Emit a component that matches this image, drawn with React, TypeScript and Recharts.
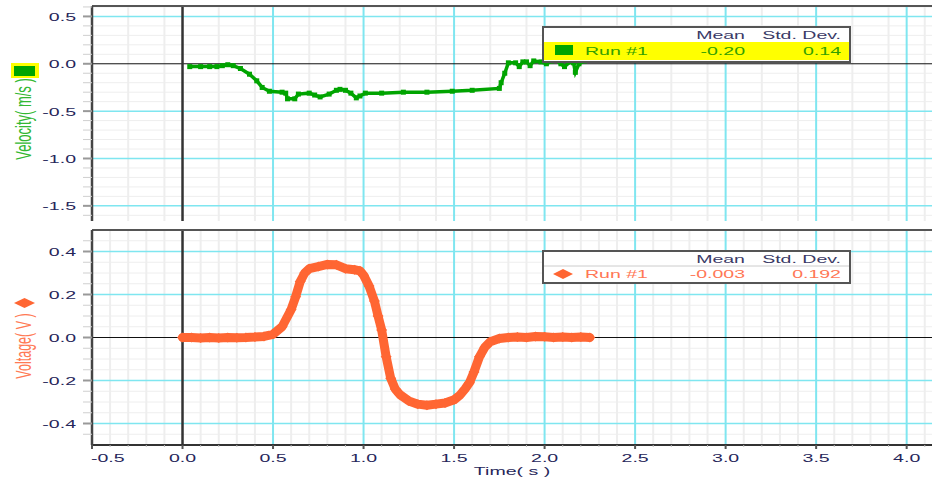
import React from 'react';
import { LineChart, Line, XAxis, YAxis, CartesianGrid } from 'recharts';

// ---------- data ----------
const velTime = [0.04, 0.10, 0.15, 0.19, 0.22, 0.25, 0.28, 0.32, 0.37, 0.41, 0.44, 0.48, 0.55, 0.57, 0.58, 0.62, 0.64, 0.70, 0.73, 0.76, 0.81, 0.85, 0.87, 0.90, 0.93, 0.96, 0.98, 1.01, 1.10, 1.22, 1.35, 1.49, 1.60, 1.75, 1.76, 1.78, 1.80, 1.84, 1.86, 1.88, 1.90, 1.92, 1.94, 1.98, 2.01, 2.04, 2.06, 2.09, 2.11, 2.14, 2.16, 2.17, 2.19, 2.22];
const velValues = [-0.03, -0.03, -0.03, -0.03, -0.02, -0.01, -0.02, -0.05, -0.11, -0.18, -0.25, -0.29, -0.30, -0.31, -0.37, -0.37, -0.32, -0.31, -0.33, -0.35, -0.32, -0.28, -0.27, -0.28, -0.31, -0.36, -0.34, -0.31, -0.31, -0.30, -0.30, -0.29, -0.28, -0.26, -0.20, -0.10, 0.01, 0.01, -0.03, 0.02, 0.02, -0.02, 0.03, 0.02, 0.00, 0.03, 0.04, 0.00, -0.03, 0.02, 0.01, -0.09, 0.00, 0.03];

const voltTime = [0.00, 0.05, 0.10, 0.15, 0.20, 0.25, 0.30, 0.35, 0.40, 0.45, 0.50, 0.55, 0.60, 0.625, 0.65, 0.675, 0.70, 0.75, 0.80, 0.85, 0.90, 0.95, 0.98, 1.00, 1.03, 1.06, 1.08, 1.10, 1.125, 1.15, 1.175, 1.20, 1.25, 1.30, 1.35, 1.40, 1.45, 1.50, 1.53, 1.56, 1.585, 1.61, 1.64, 1.67, 1.70, 1.75, 1.80, 1.85, 1.90, 1.95, 2.00, 2.05, 2.10, 2.15, 2.20, 2.25];
const voltValues = [0.0, 0.0, -0.002, 0.0, -0.002, 0.0, -0.001, 0.0, 0.002, 0.005, 0.015, 0.05, 0.13, 0.19, 0.26, 0.30, 0.32, 0.33, 0.34, 0.338, 0.32, 0.315, 0.31, 0.29, 0.24, 0.17, 0.10, 0.035, -0.09, -0.19, -0.24, -0.265, -0.295, -0.31, -0.315, -0.31, -0.305, -0.29, -0.27, -0.24, -0.21, -0.16, -0.09, -0.045, -0.02, -0.005, 0.0, 0.002, 0.0, 0.005, 0.003, 0.0, 0.002, 0.0, 0.002, 0.0];

const timeMajor = [-0.5, 0.0, 0.5, 1.0, 1.5, 2.0, 2.5, 3.0, 3.5, 4.0];
const timeMinor = [-0.4, -0.3, -0.2, -0.1, 0.1, 0.2, 0.3, 0.4, 0.6, 0.7, 0.8, 0.9, 1.1, 1.2, 1.3, 1.4, 1.6, 1.7, 1.8, 1.9, 2.1, 2.2, 2.3, 2.4, 2.6, 2.7, 2.8, 2.9, 3.1, 3.2, 3.3, 3.4, 3.6, 3.7, 3.8, 3.9, 4.1];
const velMajor = [0.5, 0.0, -0.5, -1.0, -1.5];
const velMinor = [0.6, 0.4, 0.3, 0.2, 0.1, -0.1, -0.2, -0.3, -0.4, -0.6, -0.7, -0.8, -0.9, -1.1, -1.2, -1.3, -1.4, -1.6];
const voltMajor = [0.4, 0.2, 0.0, -0.2, -0.4];
const voltMinor = [0.45, 0.35, 0.3, 0.25, 0.15, 0.1, 0.05, -0.05, -0.1, -0.15, -0.25, -0.3, -0.35, -0.45];

const timeDomain = [-0.5, 4.14];
const velDomain = [-1.66, 0.61];
const voltDomain = [-0.5, 0.5];

const velData = velTime.map((t, i) => ({ t, v: velValues[i] }));
const voltData = voltTime.map((t, i) => ({ t, v: voltValues[i] }));

// ---------- styles ----------
const FONT = '"Liberation Sans", Arial, sans-serif';
const TICK_COLOR = '#26265a';
const HEAD_COLOR = '#3a3a66';
const GREEN = '#00a400';
const ORANGE = '#ff6633';
const CYAN = '#7fe6f0';
const MINOR = '#eeeeee';
const SX = 1.7; // horizontal stretch of the reference's lettering
const FS = 11.5;

const isIn = (arr: number[], v: number) => arr.some((m) => Math.abs(m - v) < 1e-6);

const SText = ({ x, y, anchor = 'start', fill, size = FS, children }: any) => (
  <text transform={`translate(${x},${y}) scale(${SX},1)`} textAnchor={anchor} fontFamily={FONT} fontSize={size} fill={fill}>
    {children}
  </text>
);

const makeYTick = (major: number[]) => (props: any) => {
  const { x, y, payload } = props;
  const v = payload.value as number;
  const mj = isIn(major, v);
  return (
    <g>
      <line x1={x - 9} x2={x} y1={y} y2={y} stroke={mj ? '#999' : '#cfcfcf'} strokeWidth={mj ? 2 : 1} />
      {mj && (
        <SText x={x - 16} y={y + 4.5} anchor="end" fill={TICK_COLOR}>
          {v.toFixed(1)}
        </SText>
      )}
    </g>
  );
};

const XTick = (props: any) => {
  const { x, y, payload } = props;
  const v = payload.value as number;
  const mj = isIn(timeMajor, v);
  const first = Math.abs(v - timeMajor[0]) < 1e-6;
  return (
    <g>
      <line x1={x} x2={x} y1={y} y2={y + (mj ? 4 : 2)} stroke={mj ? '#555' : '#bbb'} strokeWidth={mj ? 2 : 1} />
      {mj && (
        <SText x={first ? x - 1 : x} y={y + 17} anchor={first ? 'start' : 'middle'} fill={TICK_COLOR}>
          {v.toFixed(1)}
        </SText>
      )}
    </g>
  );
};

const Diamond = (props: any) => {
  const { cx, cy, index } = props;
  if (cx == null || cy == null) return <g key={index} />;
  return <polygon key={index} points={`${cx - 5.5},${cy} ${cx},${cy - 5} ${cx + 5.5},${cy} ${cx},${cy + 5}`} fill={ORANGE} />;
};

const SmallSquare = (props: any) => {
  const { cx, cy, index } = props;
  if (cx == null || cy == null) return <g key={index} />;
  return <rect key={index} x={cx - 2.5} y={cy - 2.5} width={5} height={5} fill={GREEN} />;
};

const Grids = ({ minorY, majorY, top }: { minorY: number[]; majorY: number[]; top: number }) => [
  <CartesianGrid key="g1" stroke={MINOR} strokeWidth={1} horizontalValues={minorY} vertical={false} />,
  <CartesianGrid key="g2" stroke={MINOR} strokeWidth={2} horizontal={false} verticalValues={timeMinor} />,
  <CartesianGrid key="g3" stroke={CYAN} strokeWidth={1.5} horizontalValues={majorY.filter((v) => v !== 0)} vertical={false} />,
  <CartesianGrid key="g4" stroke={CYAN} strokeWidth={2} horizontal={false} verticalValues={timeMajor.filter((v) => v !== 0 && v !== -0.5)} />,
  <CartesianGrid key="g5" stroke="#111" strokeWidth={1} horizontalValues={[0]} vertical={false} />,
  <CartesianGrid key="g6" stroke="#333" strokeWidth={2.5} horizontal={false} verticalValues={[0]} />,
  <CartesianGrid key="g7" stroke="#555" strokeWidth={2} horizontalValues={[top]} vertical={false} />,
];

export default function App() {
  return (
    <div style={{ position: 'absolute', left: 0, top: 0, width: 932, height: 487, background: '#fff', overflow: 'hidden' }}>
      {/* top panel */}
      <div style={{ position: 'absolute', left: 0, top: 0 }}>
        <LineChart width={932} height={221} data={velData} margin={{ top: 6, right: 0, bottom: 0, left: 0 }}>
          {Grids({ minorY: velMinor, majorY: velMajor, top: velDomain[1] })}
          <XAxis type="number" dataKey="t" domain={timeDomain} allowDataOverflow hide />
          <YAxis
            type="number"
            domain={velDomain}
            allowDataOverflow
            width={92}
            ticks={[...velMajor, ...velMinor]}
            interval={0}
            tickSize={0}
            tickMargin={0}
            tickLine={false}
            axisLine={{ stroke: '#444', strokeWidth: 2.5 }}
            tick={makeYTick(velMajor)}
          />
          <Line type="linear" dataKey="v" stroke={GREEN} strokeWidth={3.5} dot={SmallSquare} isAnimationActive={false} />
        </LineChart>
      </div>
      {/* bottom panel */}
      <div style={{ position: 'absolute', left: 0, top: 221 }}>
        <LineChart width={932} height={266} data={voltData} margin={{ top: 9, right: 0, bottom: 0, left: 0 }}>
          {Grids({ minorY: voltMinor, majorY: voltMajor, top: voltDomain[1] })}
          <XAxis
            type="number"
            dataKey="t"
            domain={timeDomain}
            allowDataOverflow
            height={42}
            ticks={[...timeMajor, ...timeMinor]}
            interval={0}
            tickSize={0}
            tickMargin={0}
            tickLine={false}
            axisLine={{ stroke: '#333', strokeWidth: 2 }}
            tick={XTick}
          />
          <YAxis
            type="number"
            domain={voltDomain}
            allowDataOverflow
            width={92}
            ticks={[...voltMajor, ...voltMinor]}
            interval={0}
            tickSize={0}
            tickMargin={0}
            tickLine={false}
            axisLine={{ stroke: '#444', strokeWidth: 2.5 }}
            tick={makeYTick(voltMajor)}
          />
          <Line type="linear" dataKey="v" stroke={ORANGE} strokeWidth={9} strokeLinejoin="round" strokeLinecap="round" dot={Diamond} isAnimationActive={false} />
        </LineChart>
      </div>
      {/* overlay: axis titles and stats legends */}
      <svg width={932} height={487} style={{ position: 'absolute', left: 0, top: 0, pointerEvents: 'none' }}>
        <rect x={11} y={63} width={28} height={15} fill="#ffff00" />
        <rect x={14} y={66} width={21} height={10} fill={GREEN} />
        <text transform={`translate(31,119) scale(${SX},1) rotate(-90)`} textAnchor="middle" fontFamily={FONT} fontSize={13} fill="#33b833">
          Velocity( m/s )
        </text>
        <polygon points="14,303 24.5,298 35,303 24.5,308" fill={ORANGE} />
        <text transform={`translate(31,346) scale(${SX},1) rotate(-90)`} textAnchor="middle" fontFamily={FONT} fontSize={12.5} fill="#ff7a55">
          Voltage( V )
        </text>
        <SText x={512} y={475} anchor="middle" fill={TICK_COLOR}>
          Time( s )
        </SText>

        {/* top stats box */}
        <rect x={543} y={27} width={307} height={35} fill="#fff" stroke="#555" strokeWidth={2} />
        <SText x={745} y={39} anchor="end" fill={HEAD_COLOR}>Mean</SText>
        <SText x={841} y={39} anchor="end" fill={HEAD_COLOR}>Std. Dev.</SText>
        <rect x={544} y={42} width={305} height={18} fill="#ffff00" />
        <rect x={555} y={45} width={18} height={10} fill={GREEN} />
        <SText x={585} y={55} fill="#33a000">Run #1</SText>
        <SText x={745} y={55} anchor="end" fill="#33a000">-0.20</SText>
        <SText x={841} y={55} anchor="end" fill="#33a000">0.14</SText>

        {/* bottom stats box */}
        <rect x={543} y={251} width={307} height={32} fill="#fff" stroke="#555" strokeWidth={2} />
        <line x1={544} x2={849} y1={266} y2={266} stroke="#ccc" strokeWidth={1} />
        <SText x={745} y={263} anchor="end" fill={HEAD_COLOR}>Mean</SText>
        <SText x={841} y={263} anchor="end" fill={HEAD_COLOR}>Std. Dev.</SText>
        <polygon points="553,274 563,269 573,274 563,279" fill={ORANGE} />
        <SText x={585} y={278} fill="#ff7755">Run #1</SText>
        <SText x={745} y={278} anchor="end" fill="#ff7755">-0.003</SText>
        <SText x={841} y={278} anchor="end" fill="#ff7755">0.192</SText>
      </svg>
    </div>
  );
}
